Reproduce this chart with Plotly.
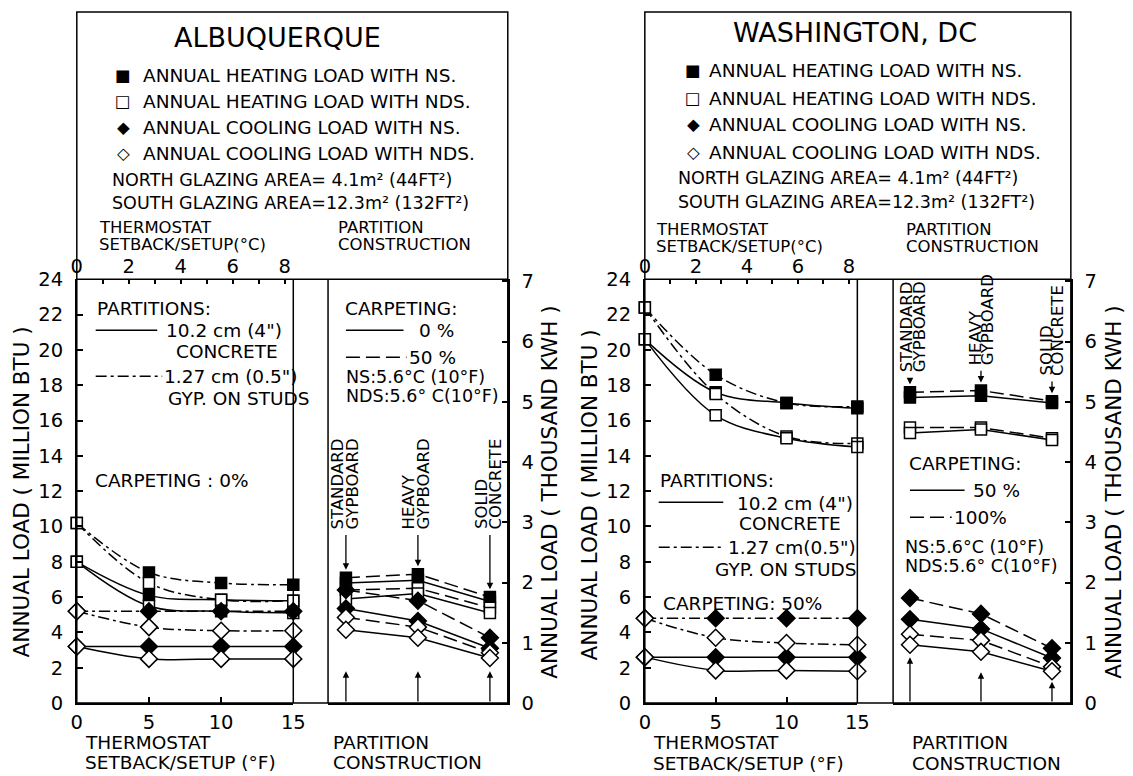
import plotly.graph_objects as go

W, H = 1133, 776
FONT = "DejaVu Sans"

# ---------------- data ----------------
setback_F = [0, 5, 10, 15]
setback_C_ticks = [0, 1, 2, 3, 4, 5, 6, 7, 8]
setback_C_labels = ["0", "", "2", "", "4", "", "6", "", "8"]
load_ticks_mbtu = list(range(0, 25, 2))
load_ticks_kwh = list(range(0, 8))
partition_names = [["STANDARD", "GYPBOARD"], ["HEAVY", "GYPBOARD"], ["SOLID", "CONCRETE"]]
partition_pos = [0, 1, 2]
MBTU_PER_THOUSAND_KWH = 3.412

# Albuquerque - thermostat setback (carpeting 0 %)
abq_heat_ns_concrete = [8.0, 6.1, 5.85, 5.8]
abq_heat_ns_gyp = [10.2, 7.4, 6.8, 6.7]
abq_heat_nds_concrete = [8.0, 5.5, 5.2, 5.1]
abq_heat_nds_gyp = [10.2, 6.8, 5.85, 5.8]
abq_cool_ns_concrete = [3.2, 3.2, 3.2, 3.2]
abq_cool_ns_gyp = [5.2, 5.2, 5.2, 5.2]
abq_cool_nds_concrete = [3.2, 2.5, 2.5, 2.5]
abq_cool_nds_gyp = [5.2, 4.3, 4.1, 4.1]

# Albuquerque - partition construction (0 % solid, 50 % dashed)
abq_p_heat_ns_0 = [6.8, 6.95, 5.75]
abq_p_heat_ns_50 = [7.1, 7.3, 6.0]
abq_p_heat_nds_0 = [5.9, 6.2, 5.1]
abq_p_heat_nds_50 = [6.4, 6.5, 5.4]
abq_p_cool_ns_0 = [5.35, 4.65, 3.1]
abq_p_cool_ns_50 = [6.4, 5.8, 3.7]
abq_p_cool_nds_0 = [4.15, 3.7, 2.55]
abq_p_cool_nds_50 = [4.85, 4.3, 2.85]

# Washington DC - thermostat setback (carpeting 50 %)
dc_heat_ns_concrete = [20.6, 17.6, 17.0, 16.7]
dc_heat_ns_gyp = [22.4, 18.6, 17.0, 16.8]
dc_heat_nds_concrete = [20.6, 16.3, 15.0, 14.5]
dc_heat_nds_gyp = [22.4, 17.5, 15.1, 14.7]
dc_cool_ns_concrete = [2.6, 2.6, 2.6, 2.6]
dc_cool_ns_gyp = [4.8, 4.8, 4.8, 4.8]
dc_cool_nds_concrete = [2.6, 1.85, 1.85, 1.8]
dc_cool_nds_gyp = [4.8, 3.7, 3.4, 3.3]

# Washington DC - partition construction (50 % solid, 100 % dashed)
dc_p_heat_ns_50 = [17.3, 17.4, 17.0]
dc_p_heat_ns_100 = [17.6, 17.7, 17.1]
dc_p_heat_nds_50 = [15.3, 15.5, 14.9]
dc_p_heat_nds_100 = [15.6, 15.6, 15.0]
dc_p_cool_ns_50 = [4.75, 4.2, 2.55]
dc_p_cool_ns_100 = [5.95, 5.05, 3.1]
dc_p_cool_nds_50 = [3.3, 2.9, 1.8]
dc_p_cool_nds_100 = [3.9, 3.55, 2.05]

# ---------------- styles ----------------
DASHDOT = "11px,4px,3px,4px"
DASHED = "14px,6px"
SYM = {
    "heat_ns": ("square", "black", 11),
    "heat_nds": ("square", "white", 11),
    "cool_ns": ("diamond", "black", 13),
    "cool_nds": ("diamond", "white", 13),
}
TXT = 18.5

fig = go.Figure()
shapes, annotations = [], []
layout_axes = {}


def X(x):
    return min(max((x - 4.7) / 0.991, 1), W - 1)


def Y(y):
    return min(max((y - 10.5) / 0.971, 1), H - 1)


def px(x):
    return X(x) / W


def py(y):
    return 1 - Y(y) / H


def txt(x, y, s, size=TXT, xanchor="left", angle=0):
    annotations.append(dict(xref="paper", yref="paper", x=px(x), y=py(y), text=s,
                            showarrow=False, xanchor=xanchor, yanchor="middle",
                            textangle=angle, borderpad=0,
                            font=dict(family=FONT, size=size, color="black")))


def hline(x0, x1, y, dash="solid", width=1.5):
    shapes.append(dict(type="line", xref="paper", yref="paper", x0=px(x0), x1=px(x1),
                       y0=py(y), y1=py(y), line=dict(color="black", width=width, dash=dash)))


def vline(x, y0, y1, width=1.5):
    shapes.append(dict(type="line", xref="paper", yref="paper", x0=px(x), x1=px(x),
                       y0=py(y0), y1=py(y1), line=dict(color="black", width=width)))


def series(x, y, xa, ya, kind, dash, shape):
    sym, fill, size = SYM[kind]
    fig.add_trace(go.Scatter(
        x=x, y=y, xaxis=xa, yaxis=ya, mode="lines+markers", cliponaxis=False,
        line=dict(color="black", width=1.5, dash=dash, shape=shape, smoothing=1.0),
        marker=dict(symbol=sym, size=size, color=fill, line=dict(color="black", width=1.5)),
        showlegend=False, hoverinfo="skip"))


def ax_ref(prefix, i):
    return prefix if i == 1 else f"{prefix}{i}"


def ax_key(prefix, i):
    return f"{prefix}axis" + ("" if i == 1 else str(i))


Y_TOP, Y_BOT = 279, 703
YDOM = [py(Y_BOT), py(Y_TOP)]
TICKFONT = dict(family=FONT, size=19.5, color="black")


def build_city(k, geo, title, temp, part, texts):
    i0 = 3 * k + 1
    xT, xC, xP = ax_ref("x", i0), ax_ref("x", i0 + 1), ax_ref("x", i0 + 2)
    yT, yP, yK = ax_ref("y", i0), ax_ref("y", i0 + 1), ax_ref("y", i0 + 2)
    L, R, TR, PL, TOP = geo["left"], geo["right"], geo["t_right"], geo["p_left"], geo["top"]
    pp = [X(v) for v in geo["p_px"]]
    sp = (pp[2] - pp[0]) / 2
    prange = [(X(PL) - pp[0]) / sp, 2 + (X(R) - pp[2]) / sp]

    layout_axes[ax_key("x", i0)] = dict(
        domain=[px(L), px(TR)], range=[0, 15], anchor=yT, tickvals=setback_F,
        ticks="inside", ticklen=6, tickwidth=1.5, tickcolor="black", showline=True,
        linecolor="black", linewidth=1.5, showgrid=False, zeroline=False,
        tickfont=TICKFONT, ticklabelstandoff=1)
    layout_axes[ax_key("x", i0 + 1)] = dict(
        overlaying=xT, side="top", anchor=yT, range=[0, 15 / 1.8],
        tickvals=setback_C_ticks, ticktext=setback_C_labels, ticks="inside", ticklen=5,
        tickwidth=1.5, tickcolor="black", showline=False, showgrid=False, zeroline=False,
        tickfont=TICKFONT, ticklabelstandoff=1)
    layout_axes[ax_key("x", i0 + 2)] = dict(
        domain=[px(PL), px(R)], range=prange, anchor=yP, showticklabels=False,
        ticks="", showline=True, linecolor="black", linewidth=1.5, showgrid=False,
        zeroline=False)
    layout_axes[ax_key("y", i0)] = dict(
        domain=YDOM, range=[0, 24], anchor=xT, tickvals=load_ticks_mbtu, ticks="inside",
        ticklen=6, tickwidth=1.5, tickcolor="black", showline=True, linecolor="black",
        linewidth=1.5, showgrid=False, zeroline=False, tickfont=TICKFONT,
        ticklabelstandoff=8)
    layout_axes[ax_key("y", i0 + 1)] = dict(
        domain=YDOM, range=[0, 24], anchor=xP, showticklabels=False, ticks="",
        showline=False, showgrid=False, zeroline=False)
    layout_axes[ax_key("y", i0 + 2)] = dict(
        overlaying=yP, side="right", anchor=xP, range=[0, 24 / MBTU_PER_THOUSAND_KWH],
        tickvals=load_ticks_kwh, ticks="inside", ticklen=6, tickwidth=1.5,
        tickcolor="black", showline=True, linecolor="black", linewidth=1.5,
        showgrid=False, zeroline=False, tickfont=TICKFONT, ticklabelstandoff=8)

    # invisible helpers so the secondary axes are drawn
    fig.add_trace(go.Scatter(x=[0], y=[0], xaxis=xC, yaxis=yT, mode="markers",
                             marker=dict(opacity=0), showlegend=False, hoverinfo="skip"))
    fig.add_trace(go.Scatter(x=[0], y=[0], xaxis=xP, yaxis=yK, mode="markers",
                             marker=dict(opacity=0), showlegend=False, hoverinfo="skip"))

    # frame
    shapes.append(dict(type="rect", xref="paper", yref="paper", x0=px(L), x1=px(R),
                       y0=py(Y_BOT), y1=py(TOP), line=dict(color="black", width=1.5)))
    hline(L, R, Y_TOP)
    vline(TR, Y_TOP, Y_BOT)
    vline(PL, Y_TOP, Y_BOT)

    # data
    for kind, vals, dash in temp:
        series(setback_F, vals, xT, yT, kind, dash, "spline")
    for kind, vals, dash in part:
        series(partition_pos, vals, xP, yP, kind, dash, "linear")

    # partition labels and arrows
    for j, (l1, l2) in enumerate(partition_names):
        base = geo["label_base"][j]
        for line_txt, sh in ((l1, geo["label_shift"][j][0]), (l2, geo["label_shift"][j][1])):
            annotations.append(dict(xref=xP, yref=yP, x=partition_pos[j], y=base,
                                    xshift=sh, text=line_txt, showarrow=False,
                                    textangle=-90, xanchor="center", yanchor="bottom",
                                    borderpad=0,
                                    font=dict(family=FONT, size=16.5, color="black")))
        top = max(v[j] for _, v, _ in part)
        annotations.append(dict(xref=xP, yref=yP, x=partition_pos[j], y=top + 0.45,
                                axref=xP, ayref=yP, ax=partition_pos[j], ay=base - 0.2,
                                text="", showarrow=True, arrowhead=2, arrowsize=1,
                                arrowwidth=1.3, arrowcolor="black", standoff=0))
        annotations.append(dict(xref=xP, yref=yP, x=partition_pos[j], y=geo["up_arrow"][j],
                                axref=xP, ayref=yP, ax=partition_pos[j], ay=0,
                                text="", showarrow=True, arrowhead=2, arrowsize=1,
                                arrowwidth=1.3, arrowcolor="black", standoff=0))

    # texts
    txt(geo["title_x"], geo["title_y"], title, size=27, xanchor="center")
    for item in texts:
        txt(*item)


abq_temp = [
    ("heat_ns", abq_heat_ns_gyp, DASHDOT), ("heat_ns", abq_heat_ns_concrete, "solid"),
    ("heat_nds", abq_heat_nds_gyp, DASHDOT), ("heat_nds", abq_heat_nds_concrete, "solid"),
    ("cool_ns", abq_cool_ns_gyp, DASHDOT), ("cool_ns", abq_cool_ns_concrete, "solid"),
    ("cool_nds", abq_cool_nds_gyp, DASHDOT), ("cool_nds", abq_cool_nds_concrete, "solid"),
]
abq_part = [
    ("heat_ns", abq_p_heat_ns_50, DASHED), ("heat_ns", abq_p_heat_ns_0, "solid"),
    ("heat_nds", abq_p_heat_nds_50, DASHED), ("heat_nds", abq_p_heat_nds_0, "solid"),
    ("cool_ns", abq_p_cool_ns_50, DASHED), ("cool_ns", abq_p_cool_ns_0, "solid"),
    ("cool_nds", abq_p_cool_nds_50, DASHED), ("cool_nds", abq_p_cool_nds_0, "solid"),
]
dc_temp = [
    ("heat_ns", dc_heat_ns_gyp, DASHDOT), ("heat_ns", dc_heat_ns_concrete, "solid"),
    ("heat_nds", dc_heat_nds_gyp, DASHDOT), ("heat_nds", dc_heat_nds_concrete, "solid"),
    ("cool_ns", dc_cool_ns_gyp, DASHDOT), ("cool_ns", dc_cool_ns_concrete, "solid"),
    ("cool_nds", dc_cool_nds_gyp, DASHDOT), ("cool_nds", dc_cool_nds_concrete, "solid"),
]
dc_part = [
    ("heat_ns", dc_p_heat_ns_100, DASHED), ("heat_ns", dc_p_heat_ns_50, "solid"),
    ("heat_nds", dc_p_heat_nds_100, DASHED), ("heat_nds", dc_p_heat_nds_50, "solid"),
    ("cool_ns", dc_p_cool_ns_100, DASHED), ("cool_ns", dc_p_cool_ns_50, "solid"),
    ("cool_nds", dc_p_cool_nds_100, DASHED), ("cool_nds", dc_p_cool_nds_50, "solid"),
]

LEG = ["ANNUAL HEATING LOAD WITH NS.", "ANNUAL HEATING LOAD WITH NDS.",
       "ANNUAL COOLING LOAD WITH NS.", "ANNUAL COOLING LOAD WITH NDS."]
GLYPH = ["■", "□", "◆", "◇"]


def legend_texts(mx, tx, rows, gx, gy):
    out = []
    for g, s, y in zip(GLYPH, LEG, rows):
        out.append((mx, y, g, 16.5, "center"))
        out.append((tx, y, s, TXT))
    out.append((gx, gy[0], "NORTH GLAZING AREA= 4.1m² (44FT²)", 17.5))
    out.append((gx, gy[1], "SOUTH GLAZING AREA=12.3m² (132FT²)", 17.5))
    return out


abq_geo = dict(left=76, right=510, t_right=294, p_left=329, top=10, p_px=[347, 420, 492],
               title_x=278, title_y=37, label_base=[9.8, 9.8, 9.8],
               label_shift=[(-8, 7), (-9, 6), (-9, 6)], up_arrow=[1.8, 1.8, 1.8])
abq_texts = legend_texts(123, 142, [75, 101, 127, 153], 110, [180, 203]) + [
    (97, 227, "THERMOSTAT", 16.5), (97, 244, "SETBACK/SETUP(°C)", 16.5),
    (338, 227, "PARTITION", 16.5), (338, 244, "CONSTRUCTION", 16.5),
    (95, 308, "PARTITIONS:", TXT), (165, 330, "10.2 cm (4\")", TXT),
    (175, 351, "CONCRETE", TXT), (163, 376, "1.27 cm (0.5\")", TXT),
    (167, 398, "GYP. ON STUDS", TXT), (93, 480, "CARPETING : 0%", TXT),
    (345, 308, "CARPETING:", TXT), (420, 330, "0 %", TXT), (410, 357, "50 %", TXT),
    (346, 377, "NS:5.6°C (10°F)", 17.5), (346, 396, "NDS:5.6° C(10°F)", 17.5),
    (83, 742, "THERMOSTAT", TXT), (83, 762, "SETBACK/SETUP (°F)", TXT),
    (333, 742, "PARTITION", TXT), (333, 762, "CONSTRUCTION", TXT),
    (20, 492, "ANNUAL LOAD ( MILLION BTU )", 21.5, "center", -90),
    (552, 492, "ANNUAL LOAD ( THOUSAND KWH )", 21.5, "center", -90),
]
hline(95, 157, 330)
hline(95, 162, 376, DASHDOT)
hline(347, 405, 330)
hline(347, 408, 357, DASHED)

dc_geo = dict(left=648, right=1077, t_right=862, p_left=898, top=8, p_px=[915, 987, 1058],
              title_x=860, title_y=32, label_base=[18.7, 19.1, 18.5],
              label_shift=[(-4, 9), (-6, 6), (-6, 6)], up_arrow=[2.6, 1.75, 1.2])
dc_texts = legend_texts(697, 712, [70, 98, 124, 152], 680, [178, 202]) + [
    (658, 229, "THERMOSTAT", 16.5), (658, 246, "SETBACK/SETUP(°C)", 16.5),
    (910, 229, "PARTITION", 16.5), (910, 246, "CONSTRUCTION", 16.5),
    (662, 480, "PARTITIONS:", TXT), (740, 503, "10.2 cm (4\")", TXT),
    (742, 523, "CONCRETE", TXT), (731, 547, "1.27 cm(0.5\")", TXT),
    (718, 569, "GYP. ON STUDS", TXT), (665, 603, "CARPETING: 50%", TXT),
    (913, 463, "CARPETING:", TXT), (977, 490, "50 %", TXT), (958, 517, "100%", TXT),
    (909, 547, "NS:5.6°C (10°F)", 17.5), (909, 566, "NDS:5.6° C(10°F)", 17.5),
    (655, 742, "THERMOSTAT", TXT), (655, 763, "SETBACK/SETUP (°F)", TXT),
    (916, 742, "PARTITION", TXT), (916, 763, "CONSTRUCTION", TXT),
    (592, 495, "ANNUAL LOAD ( MILLION BTU )", 21.5, "center", -90),
    (1120, 492, "ANNUAL LOAD ( THOUSAND KWH )", 21.5, "center", -90),
]
hline(662, 727, 502)
hline(662, 728, 547, DASHDOT)
hline(915, 970, 490)
hline(915, 957, 517, DASHED)

build_city(0, abq_geo, "ALBUQUERQUE", abq_temp, abq_part, abq_texts)
build_city(1, dc_geo, "WASHINGTON, DC", dc_temp, dc_part, dc_texts)

fig.update_layout(width=W, height=H, margin=dict(l=0, r=0, t=0, b=0),
                  paper_bgcolor="white", plot_bgcolor="white", showlegend=False,
                  shapes=shapes, annotations=annotations, **layout_axes)
fig.write_html("out.html", config={"responsive": False, "displayModeBar": False},
               post_script="document.body.style.margin='0px';"
                           "document.body.style.overflow='hidden';")
